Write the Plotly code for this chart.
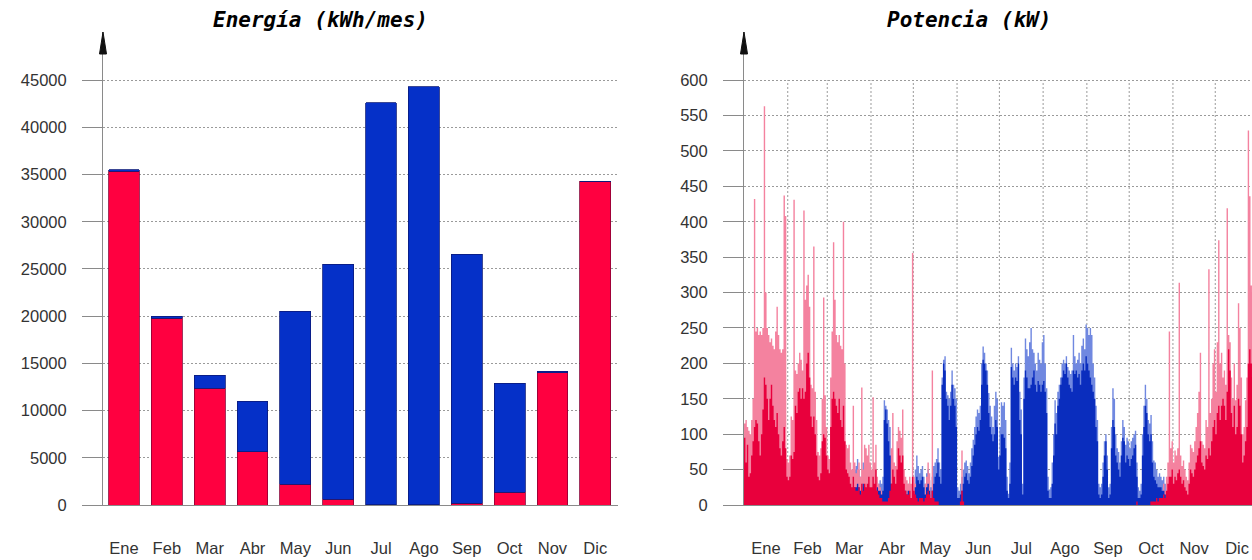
import numpy as np
import plotly.graph_objects as go

# ---------------------------------------------------------------- datos
meses = ["Ene", "Feb", "Mar", "Abr", "May", "Jun", "Jul", "Ago", "Sep", "Oct", "Nov", "Dic"]
dias_mes = [31, 28, 31, 30, 31, 30, 31, 31, 30, 31, 30, 31]

# Energía mensual (kWh/mes)
energia_calef = [35350, 19800, 12350, 5650, 2200, 600, 50, 30, 200, 1350, 14000, 34300]
energia_refri = [150, 200, 1400, 5350, 18300, 24900, 42550, 44270, 26380, 11550, 150, 0]

# Potencia diaria (kW): máximo del día y nivel habitual, calefacción
calef_pico = (
    [115, 120, 110, 105, 100, 120, 150, 432, 245, 250, 240, 245, 240, 250, 563, 300,
     250, 240, 230, 235, 225, 220, 245, 280, 240, 220, 215, 220, 437, 408, 65]
    + [60, 70, 125, 120, 431, 190, 185, 200, 215, 205, 190, 416, 290, 310, 325, 280,
       170, 165, 365, 160, 120, 75, 70, 80, 150, 293, 155, 110]
    + [70, 65, 180, 245, 371, 290, 240, 230, 240, 225, 220, 400, 200, 85, 80, 85,
       60, 50, 140, 60, 45, 50, 60, 40, 166, 50, 85, 80, 70, 85, 60]
    + [50, 152, 60, 85, 40, 30, 25, 20, 15, 10, 10, 15, 20, 60, 80, 130,
       60, 55, 90, 110, 105, 95, 135, 50, 40, 35, 30, 40, 30, 356]
    + [40, 30, 20, 15, 30, 25, 20, 15, 30, 40, 60, 45, 20, 190, 30, 20,
       15, 10, 10, 10, 5, 5, 5, 5, 0, 0, 5, 0, 0, 5, 0]
    + [0, 5, 10, 77, 10, 0, 0, 0, 0, 0, 0, 0, 0, 0, 0,
       0, 0, 0, 0, 0, 0, 0, 0, 0, 0, 0, 0, 0, 0, 0]
    + [0] * 31
    + [0] * 31
    + [0] * 30
    + [5, 0, 0, 0, 5, 10, 5, 0, 0, 0, 0, 5, 0, 0, 0, 10,
       15, 10, 15, 20, 15, 20, 20, 20, 30, 20, 40, 60, 245, 80, 90]
    + [60, 77, 70, 80, 314, 70, 55, 63, 50, 40, 35, 60, 85, 80, 75,
       90, 110, 130, 160, 215, 90, 85, 80, 120, 110, 333, 130, 150, 200, 220]
    + [160, 230, 374, 200, 215, 180, 190, 170, 419, 240, 230, 180, 150, 200, 148, 170,
       285, 250, 180, 100, 110, 148, 180, 529, 436, 310, 300, 280, 250, 230, 200]
)
calef_base = (
    [95, 60, 85, 40, 45, 70, 90, 110, 120, 115, 90, 70, 100, 135, 180, 170,
     150, 120, 150, 170, 140, 120, 110, 130, 100, 80, 70, 90, 110, 80, 40]
    + [35, 40, 70, 65, 75, 140, 130, 160, 165, 150, 165, 150, 160, 200, 215, 180,
       125, 110, 125, 100, 70, 40, 35, 45, 90, 100, 95, 70]
    + [50, 45, 110, 150, 160, 150, 140, 130, 150, 120, 110, 140, 90, 50, 45, 40,
       30, 25, 40, 25, 20, 20, 25, 15, 30, 20, 30, 25, 30, 40, 25]
    + [25, 40, 30, 50, 20, 15, 10, 10, 5, 5, 5, 5, 10, 20, 30, 50,
       40, 30, 50, 80, 70, 60, 70, 30, 20, 15, 15, 20, 10, 40]
    + [20, 15, 10, 5, 10, 10, 10, 5, 10, 15, 20, 15, 10, 20, 10, 5,
       5, 5, 0, 0, 0, 0, 0, 0, 0, 0, 0, 0, 0, 0, 0]
    + [0, 0, 5, 20, 5, 0, 0, 0, 0, 0, 0, 0, 0, 0, 0,
       0, 0, 0, 0, 0, 0, 0, 0, 0, 0, 0, 0, 0, 0, 0]
    + [0] * 31
    + [0] * 31
    + [0] * 30
    + [0, 0, 0, 0, 0, 5, 0, 0, 0, 0, 0, 0, 0, 0, 0, 5,
       5, 5, 5, 10, 5, 10, 10, 10, 15, 10, 20, 30, 40, 40, 50]
    + [30, 40, 35, 45, 50, 40, 30, 35, 25, 20, 15, 30, 50, 45, 40,
       50, 60, 70, 80, 90, 60, 55, 50, 70, 65, 80, 70, 90, 110, 120]
    + [100, 130, 140, 120, 140, 150, 140, 120, 160, 220, 190, 130, 110, 140, 100, 110,
       150, 140, 100, 60, 70, 90, 110, 200, 220, 200, 180, 160, 150, 140, 120]
)

# Potencia diaria (kW): máximo del día y nivel habitual, refrigeración
refri_pico = (
    [0] * 31
    + [0] * 28
    + [0] * 16 + [20, 35, 45, 50, 55, 65, 50, 40, 30, 60, 50, 25, 20, 30, 35]
    + [30, 25, 20, 35, 35, 30, 35, 30, 40, 148, 140, 135, 120, 110, 60,
       30, 20, 15, 10, 10, 15, 20, 10, 30, 30, 25, 30, 20, 25, 20]
    + [30, 50, 70, 55, 45, 50, 55, 40, 30, 45, 50, 35, 25, 40, 55, 60,
       65, 80, 60, 50, 180, 205, 210, 160, 155, 150, 160, 190, 170, 165, 150]
    + [25, 20, 30, 40, 50, 60, 63, 55, 45, 60, 80, 92, 110, 125, 135,
       130, 140, 200, 224, 215, 200, 190, 158, 140, 125, 110, 140, 160, 150, 68]
    + [110, 145, 140, 145, 120, 40, 16, 60, 222, 200, 190, 200, 195, 210, 160, 135,
       30, 180, 235, 220, 210, 230, 250, 220, 215, 200, 190, 215, 205, 200, 230]
    + [240, 200, 165, 40, 22, 25, 60, 100, 148, 130, 160, 170, 180, 200, 205, 200,
       210, 195, 190, 185, 190, 240, 210, 200, 205, 215, 200, 225, 235, 220, 255]
    + [250, 240, 250, 240, 200, 180, 140, 120, 30, 25, 30, 60, 90, 100, 70,
       25, 30, 110, 165, 150, 100, 80, 75, 60, 90, 120, 110, 85, 95, 90]
    + [80, 90, 95, 100, 105, 60, 25, 20, 30, 100, 140, 170, 150, 120, 115, 127,
       90, 63, 60, 50, 40, 45, 40, 35, 40, 30, 20, 15, 10, 10, 10]
    + [15, 10, 10, 5, 5, 10, 5, 5, 5, 0, 0, 5, 0, 0, 0,
       0, 0, 0, 0, 0, 0, 0, 0, 0, 0, 0, 0, 0, 0, 0]
    + [0] * 31
)
refri_base = (
    [0] * 31
    + [0] * 28
    + [0] * 16 + [10, 15, 20, 25, 25, 30, 25, 20, 15, 30, 25, 10, 10, 15, 20]
    + [15, 10, 10, 20, 25, 20, 20, 15, 20, 120, 135, 115, 90, 70, 30,
       15, 10, 5, 5, 5, 5, 10, 5, 15, 20, 15, 20, 10, 10, 10]
    + [15, 25, 40, 35, 30, 35, 40, 25, 15, 25, 30, 20, 10, 20, 30, 40,
       45, 60, 40, 30, 170, 200, 190, 150, 140, 120, 140, 170, 150, 140, 110]
    + [10, 10, 15, 20, 30, 40, 45, 35, 30, 40, 55, 70, 85, 100, 110,
       105, 120, 170, 205, 200, 190, 170, 130, 110, 100, 90, 100, 120, 110, 50]
    + [70, 100, 100, 95, 80, 20, 10, 30, 195, 180, 170, 180, 175, 200, 120, 100,
       15, 150, 190, 180, 165, 165, 170, 180, 190, 170, 160, 175, 170, 160, 170]
    + [175, 160, 130, 20, 10, 10, 30, 70, 115, 100, 140, 150, 170, 180, 190, 185,
       200, 180, 170, 165, 160, 190, 185, 190, 180, 185, 170, 190, 200, 190, 210]
    + [200, 190, 180, 170, 160, 150, 110, 90, 15, 10, 15, 40, 70, 90, 50,
       10, 15, 80, 120, 110, 70, 60, 50, 40, 70, 95, 90, 60, 70, 65]
    + [55, 65, 70, 80, 85, 40, 10, 10, 15, 70, 110, 140, 130, 100, 90, 100,
       60, 40, 35, 30, 25, 25, 25, 20, 20, 15, 10, 5, 5, 5, 5]
    + [5, 5, 5, 0, 0, 5, 0, 0, 0, 0, 0, 0, 0, 0, 0,
       0, 0, 0, 0, 0, 0, 0, 0, 0, 0, 0, 0, 0, 0, 0]
    + [0] * 31
)

# ---------------------------------------------------------------- estilo
ROJO = "#FF0040"
AZUL = "#0530C8"
ROSA_CLARO = "#F4829F"
ROJO_OSCURO = "#E8003C"
AZUL_CLARO = "#7088E0"
AZUL_OSCURO = "#0A2DBE"
GRIS_EJE = "#8A8A8A"
GRIS_REJILLA = "#9A9A9A"
PUNTEADO = "2px,2px"
TEXTO = "#333333"
FUENTE = "Liberation Sans"

W, H = 1252, 560
# cajas de los dos gráficos, en píxeles
IZQ_X0, IZQ_X1 = 103, 618
DER_X0, DER_X1 = 744, 1252
Y_BASE, Y_TOPE = 505, 32


def px_x(v):
    return v / W


def px_y(v):
    return (H - v) / H


horas_dia = np.arange(len(calef_pico) + 1) * 24
limites_mes = np.cumsum([0] + dias_mes) * 24
centros_mes = (limites_mes[:-1] + limites_mes[1:]) / 2
horas_visibles = (DER_X1 - DER_X0) / (IZQ_X1 - IZQ_X0) * limites_mes[-1]


def escalon(valores):
    return list(valores) + [valores[-1]]


fig = go.Figure()

# -------- Energía mensual: barras apiladas
fig.add_trace(go.Bar(
    x=meses, y=energia_calef, name="Calefacción",
    marker=dict(color=ROJO, line=dict(color="#8a0035", width=0.8)),
    xaxis="x", yaxis="y", hoverinfo="skip",
))
fig.add_trace(go.Bar(
    x=meses, y=energia_refri, name="Refrigeración",
    marker=dict(color=AZUL, line=dict(color="#0a1a7a", width=0.8)),
    xaxis="x", yaxis="y", hoverinfo="skip",
))

# -------- Potencia: perfil diario en escalones
capas = [
    (refri_pico, AZUL_CLARO),
    (calef_pico, ROSA_CLARO),
    (refri_base, AZUL_OSCURO),
    (calef_base, ROJO_OSCURO),
]
for serie, color in capas:
    fig.add_trace(go.Scatter(
        x=horas_dia, y=escalon(serie), mode="lines", line_shape="hv",
        line=dict(width=0, color=color), fill="tozeroy", fillcolor=color,
        xaxis="x2", yaxis="y2", hoverinfo="skip",
    ))

eje_y = dict(
    showline=True, linecolor=GRIS_EJE, linewidth=1,
    ticks="outside", ticklen=20, tickcolor=GRIS_EJE, tickwidth=1,
    showgrid=True, gridcolor=GRIS_REJILLA, griddash=PUNTEADO, gridwidth=1,
    zeroline=False, ticklabelstandoff=12, automargin=False,
    tickfont=dict(family=FUENTE, size=16.5, color=TEXTO),
    domain=[px_y(Y_BASE), px_y(Y_TOPE)], fixedrange=True,
)
eje_x = dict(
    showline=True, linecolor=GRIS_EJE, linewidth=1, ticks="",
    showgrid=False, zeroline=False, ticklabelstandoff=28, automargin=False,
    tickfont=dict(family=FUENTE, size=16.5, color=TEXTO), fixedrange=True,
)

fig.update_layout(
    width=W, height=H, margin=dict(l=0, r=0, t=0, b=0, autoexpand=False),
    paper_bgcolor="white", plot_bgcolor="white",
    barmode="stack", bargap=0.28, showlegend=False,
    xaxis=dict(eje_x, domain=[px_x(IZQ_X0), px_x(IZQ_X1)], anchor="y",
               type="category", range=[-0.49, 11.53]),
    yaxis=dict(eje_y, anchor="x", range=[0, 50100],
               tickvals=list(range(0, 45001, 5000)), tickformat="d"),
    xaxis2=dict(eje_x, domain=[px_x(DER_X0), px_x(DER_X1)], anchor="y2",
                range=[0, horas_visibles], tickvals=centros_mes, ticktext=meses),
    yaxis2=dict(eje_y, anchor="x2", range=[0, 668],
                tickvals=list(range(0, 601, 50))),
)

# rejilla vertical mensual del gráfico de potencia (hasta 600 kW)
for h in limites_mes[1:-1]:
    fig.add_shape(type="line", xref="x2", yref="y2", x0=h, x1=h, y0=0, y1=600,
                  line=dict(color=GRIS_REJILLA, width=1, dash=PUNTEADO), layer="below")

# flechas en el extremo de los ejes verticales
for x_eje in (IZQ_X0, DER_X0):
    punta = px_y(Y_TOPE)
    base = px_y(Y_TOPE + 22)
    fig.add_shape(
        type="path", xref="paper", yref="paper",
        path=f"M {px_x(x_eje - 3.5)},{base} L {px_x(x_eje)},{punta} "
             f"L {px_x(x_eje + 3.5)},{base} Z",
        fillcolor="#111111", line=dict(color="#111111", width=1),
    )

titulo = dict(family="DejaVu Sans Mono", size=21, color="#000000",
              weight="bold", style="italic")
for texto, centro in (("Energía (kWh/mes)", 320), ("Potencia (kW)", 969)):
    fig.add_annotation(text=texto, x=px_x(centro), y=px_y(20),
                       xref="paper", yref="paper", xanchor="center", yanchor="middle",
                       showarrow=False, font=titulo)

fig.write_html("out.html")
